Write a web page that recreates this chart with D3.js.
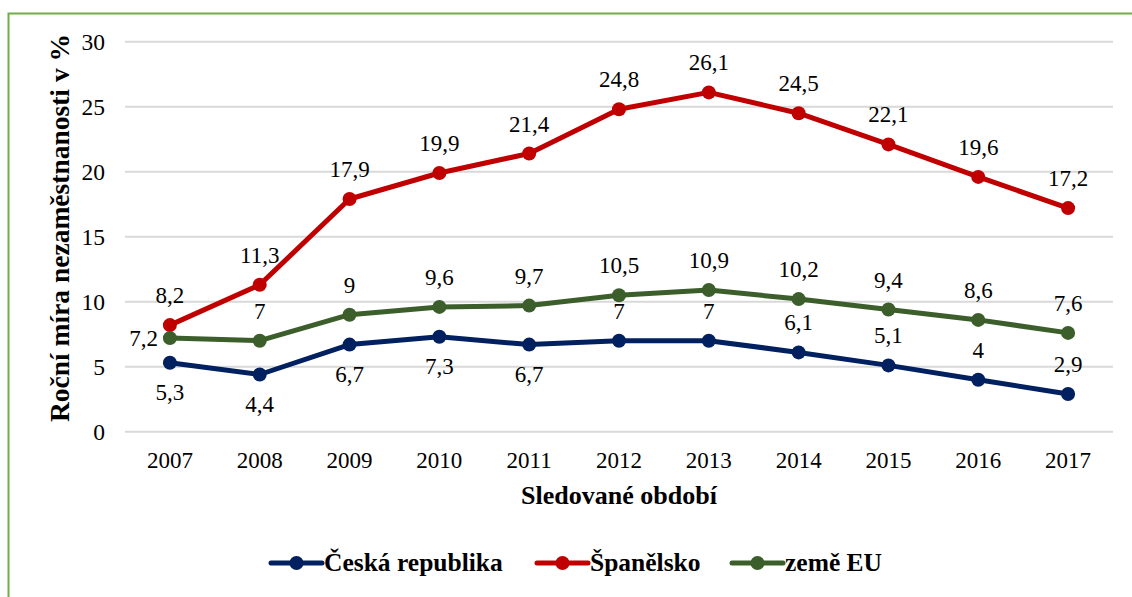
<!DOCTYPE html>
<html lang="cs">
<head>
<meta charset="utf-8">
<title>Roční míra nezaměstnanosti</title>
<script src="https://cdn.jsdelivr.net/npm/d3@7"></script>
<style>
  body { margin: 0; background: #fff; }
</style>
</head>
<body>
<script>
var years = ["2007","2008","2009","2010","2011","2012","2013","2014","2015","2016","2017"];
var cesko = [5.3, 4.4, 6.7, 7.3, 6.7, 7, 7, 6.1, 5.1, 4, 2.9];
var spanelsko = [8.2, 11.3, 17.9, 19.9, 21.4, 24.8, 26.1, 24.5, 22.1, 19.6, 17.2];
var zemeEU = [7.2, 7, 9, 9.6, 9.7, 10.5, 10.9, 10.2, 9.4, 8.6, 7.6];
var yTicks = [0, 5, 10, 15, 20, 25, 30];

var series = [
  { name: "Česká republika", values: cesko, color: "#002060",
    pos: function(i) { return i <= 4 ? "below" : "above"; } },
  { name: "Španělsko", values: spanelsko, color: "#C00000",
    pos: function(i) { return "above"; } },
  { name: "země EU", values: zemeEU, color: "#3B5E2B",
    pos: function(i) { return i === 0 ? "left" : "above"; } }
];

var FONT = "'Liberation Serif', 'Times New Roman', Times, serif";

var W = 1132, H = 597;
var svg = d3.select("body").append("svg").attr("width", W).attr("height", H)
  .style("display", "block");

// frame
svg.append("rect")
  .attr("x", 8.5).attr("y", 13.5)
  .attr("width", W + 20).attr("height", H + 20)
  .attr("fill", "none").attr("stroke", "#70AD47").attr("stroke-width", 2);

var plotL = 125, plotR = 1113, plotT = 41.7, plotB = 431.7;

var x = d3.scaleBand().domain(years).range([plotL, plotR]);
var y = d3.scaleLinear().domain([0, 30]).range([plotB, plotT]);

// gridlines
svg.append("g").selectAll("line").data(yTicks).enter().append("line")
  .attr("x1", plotL).attr("x2", plotR)
  .attr("y1", function(d) { return y(d); }).attr("y2", function(d) { return y(d); })
  .attr("stroke", "#D9D9D9").attr("stroke-width", 2);

// y axis
var yAxis = svg.append("g").attr("transform", "translate(" + (plotL - 20) + ",0)")
  .call(d3.axisLeft(y).tickValues(yTicks).tickSize(0).tickPadding(0));
yAxis.select(".domain").remove();
yAxis.selectAll("text").style("font-family", FONT).style("font-size", "23.5px").attr("fill", "#000");

// x axis
var xAxis = svg.append("g").attr("transform", "translate(0," + (plotB + 20) + ")")
  .call(d3.axisBottom(x).tickSize(0).tickPadding(0));
xAxis.select(".domain").remove();
xAxis.selectAll("text").style("font-family", FONT).style("font-size", "23px")
  .attr("fill", "#000").attr("dy", "0.71em");

// axis titles
svg.append("text")
  .attr("x", (plotL + plotR) / 2).attr("y", 504)
  .attr("text-anchor", "middle")
  .style("font-family", FONT).style("font-size", "26px").style("font-weight", "bold")
  .text("Sledované období");

svg.append("text")
  .attr("transform", "translate(69,228) rotate(-90)")
  .attr("text-anchor", "middle")
  .style("font-family", FONT).style("font-size", "27.5px").style("font-weight", "bold")
  .text("Roční míra nezaměstnanosti v %");

var cx = function(i) { return x(years[i]) + x.bandwidth() / 2; };
var line = d3.line()
  .x(function(d, i) { return cx(i); })
  .y(function(d) { return y(d); });

series.forEach(function(s) {
  var g = svg.append("g");
  g.append("path").datum(s.values)
    .attr("d", line).attr("fill", "none")
    .attr("stroke", s.color).attr("stroke-width", 5)
    .attr("stroke-linejoin", "round");
  g.selectAll("circle").data(s.values).enter().append("circle")
    .attr("cx", function(d, i) { return cx(i); })
    .attr("cy", function(d) { return y(d); })
    .attr("r", 7).attr("fill", s.color);
});

series.forEach(function(s) {
  svg.append("g").selectAll("text").data(s.values).enter().append("text")
    .style("font-family", FONT).style("font-size", "23px").attr("fill", "#000")
    .attr("text-anchor", function(d, i) { return s.pos(i) === "left" ? "end" : "middle"; })
    .attr("x", function(d, i) { return s.pos(i) === "left" ? cx(i) - 12 : cx(i); })
    .attr("y", function(d, i) {
      var p = s.pos(i);
      if (p === "above") return y(d) - 22;
      if (p === "below") return y(d) + 37;
      return y(d) + 8;
    })
    .text(function(d) { return String(d).replace(".", ","); });
});

// legend
var legendX = [271, 537, 732];
var legend = svg.append("g");
series.forEach(function(s, k) {
  var g = legend.append("g").attr("transform", "translate(" + legendX[k] + ",563)");
  g.append("line").attr("x1", 0).attr("x2", 51).attr("y1", 0).attr("y2", 0)
    .attr("stroke", s.color).attr("stroke-width", 5).attr("stroke-linecap", "round");
  g.append("circle").attr("cx", 25.5).attr("cy", 0).attr("r", 7).attr("fill", s.color);
  g.append("text").attr("x", 53).attr("y", 8)
    .style("font-family", FONT).style("font-size", "25.5px").style("font-weight", "bold")
    .text(s.name);
});
</script>
</body>
</html>
